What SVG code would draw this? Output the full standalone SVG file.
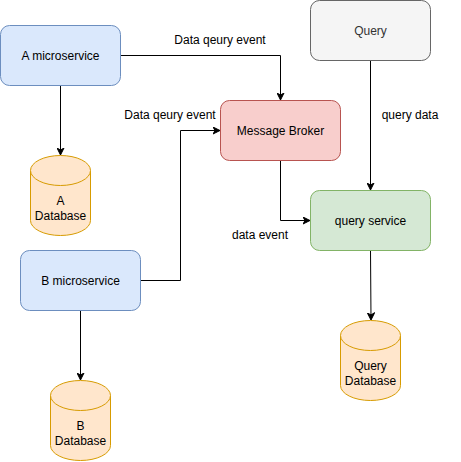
<svg xmlns="http://www.w3.org/2000/svg" width="461" height="462" viewBox="0 0 461 462">
<defs>
<marker id="arr" markerWidth="8" markerHeight="8" refX="7" refY="4" orient="auto" markerUnits="userSpaceOnUse">
<path d="M0.5,0.5 L7.5,4 L0.5,7.5 L2.5,4 Z" fill="#000" stroke="#000" stroke-width="1"/>
</marker>
</defs>
<style>
text{font-family:"Liberation Sans",Arial,Helvetica,sans-serif;font-size:12px;fill:#000;text-anchor:middle}
.blue{fill:#dae8fc;stroke:#6c8ebf}
.red{fill:#f8cecc;stroke:#b85450}
.grey{fill:#f5f5f5;stroke:#666666}
.green{fill:#d5e8d4;stroke:#82b366}
.db{fill:#ffe6cc;stroke:#d79b00}
.edge{fill:none;stroke:#000;stroke-width:1;marker-end:url(#arr)}
</style>
<g id="connectors">
<path class="edge" d="M60.5,85 L60.5,154.5"/>
<path class="edge" d="M120.5,55.5 L280.5,55.5 L280.5,99.5"/>
<path class="edge" d="M140.5,280.5 L180.5,280.5 L180.5,130.5 L219.5,130.5"/>
<path class="edge" d="M280.5,160 L280.5,220.5 L309.5,220.5"/>
<path class="edge" d="M370.5,60 L370.5,189.5"/>
<path class="edge" d="M370.5,250 L371,319.5"/>
<path class="edge" d="M80.5,310 L80.5,379.5"/>
<text x="220" y="44">Data qeury event</text>
<text x="170" y="119">Data qeury event</text>
<text x="260" y="239">data event</text>
<text x="410" y="119">query data</text>
</g>
<g id="a-microservice">
<rect class="blue" x="0.5" y="25.5" width="120" height="60" rx="9"/>
<text x="60.5" y="59.5">A microservice</text>
</g>
<g id="a-database">
<path class="db" d="M30.5,170.5 A30,15 0 0 1 90.5,170.5 L90.5,220.5 A30,15 0 0 1 30.5,220.5 Z"/>
<path class="db" d="M30.5,170.5 A30,15 0 0 0 90.5,170.5" fill="none"/>
<text x="60.5" y="204.5">A</text>
<text x="60.5" y="219.5">Database</text>
</g>
<g id="message-broker">
<rect class="red" x="220.5" y="100.5" width="120" height="60" rx="9"/>
<text x="280.5" y="134.5">Message Broker</text>
</g>
<g id="query">
<rect class="grey" x="310.5" y="0.5" width="120" height="60" rx="9"/>
<text x="370.5" y="34.5" style="fill:#333333">Query</text>
</g>
<g id="query-service">
<rect class="green" x="310.5" y="190.5" width="120" height="60" rx="9"/>
<text x="370.5" y="224.5">query service</text>
</g>
<g id="b-microservice">
<rect class="blue" x="20.5" y="250.5" width="120" height="60" rx="9"/>
<text x="80.5" y="284.5">B microservice</text>
</g>
<g id="b-database">
<path class="db" d="M50.5,395.5 A30,15 0 0 1 110.5,395.5 L110.5,445.5 A30,15 0 0 1 50.5,445.5 Z"/>
<path class="db" d="M50.5,395.5 A30,15 0 0 0 110.5,395.5" fill="none"/>
<text x="80.5" y="429.5">B</text>
<text x="80.5" y="444.5">Database</text>
</g>
<g id="query-database">
<path class="db" d="M340.5,335.5 A30,15 0 0 1 400.5,335.5 L400.5,385.5 A30,15 0 0 1 340.5,385.5 Z"/>
<path class="db" d="M340.5,335.5 A30,15 0 0 0 400.5,335.5" fill="none"/>
<text x="370.5" y="369.5">Query</text>
<text x="370.5" y="384.5">Database</text>
</g>
</svg>
